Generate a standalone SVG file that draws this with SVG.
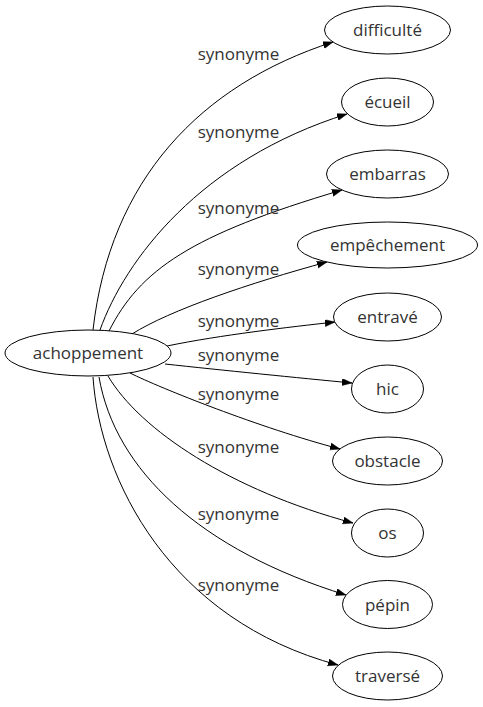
<svg xmlns="http://www.w3.org/2000/svg" width="483" height="707" viewBox="0 0 483 707">
<defs>
<style>
.n ellipse{fill:#fff;stroke:#000;stroke-width:1}
.n text{font-family:"Open Sans","DejaVu Sans",sans-serif;font-size:17px;fill:#333;text-anchor:middle}
.l{font-family:"Open Sans","DejaVu Sans",sans-serif;font-size:17px;fill:#333;text-anchor:middle}
.e path{fill:none;stroke:#000;stroke-width:1;marker-end:url(#ah)}
</style>
<marker id="ah" markerUnits="userSpaceOnUse" markerWidth="11" markerHeight="8" refX="10" refY="3.5" orient="auto">
<path d="M0,0 L10,3.5 L0,7 z" fill="#000" stroke="#000" stroke-width="0.5"/>
</marker>
</defs>
<rect width="483" height="707" fill="#fff"/>
<g id="edges" class="e">
<path d="M93,330 C110,180 200,85 333,42"/>
<path d="M100,330 C125,260 200,160 347,114"/>
<path d="M109,331 C140,270 190,235 342,190"/>
<path d="M132,334 C170,310 250,283 327,262"/>
<path d="M167,346 C220,335 290,327 335,322"/>
<path d="M165,364 C220,370 300,378 352,383"/>
<path d="M130,373 C160,388 260,428 340,449"/>
<path d="M108,376 C140,430 230,490 353,523"/>
<path d="M99,377 C115,470 200,550 346,595"/>
<path d="M93,377 C100,480 170,620 338,665"/>
</g>
<g id="labels">
<text class="l" x="238.5" y="60">synonyme</text>
<text class="l" x="238.5" y="138">synonyme</text>
<text class="l" x="238.5" y="214">synonyme</text>
<text class="l" x="238.5" y="275">synonyme</text>
<text class="l" x="238.5" y="327">synonyme</text>
<text class="l" x="238.5" y="361">synonyme</text>
<text class="l" x="238.5" y="400">synonyme</text>
<text class="l" x="238.5" y="453">synonyme</text>
<text class="l" x="238.5" y="520">synonyme</text>
<text class="l" x="238.5" y="591">synonyme</text>
</g>
<g id="achoppement" class="n"><ellipse cx="88" cy="353" rx="83" ry="23"/><text x="88" y="359">achoppement</text></g>
<g id="difficulte" class="n"><ellipse cx="387.5" cy="30" rx="63" ry="24"/><text x="387.5" y="36">difficulté</text></g>
<g id="ecueil" class="n"><ellipse cx="387.5" cy="102" rx="46" ry="24"/><text x="387.5" y="108">écueil</text></g>
<g id="embarras" class="n"><ellipse cx="387.5" cy="174" rx="61" ry="24"/><text x="387.5" y="180">embarras</text></g>
<g id="empechement" class="n"><ellipse cx="387.5" cy="245" rx="90" ry="23"/><text x="387.5" y="251">empêchement</text></g>
<g id="entrave" class="n"><ellipse cx="387.5" cy="317" rx="54" ry="24"/><text x="387.5" y="323">entravé</text></g>
<g id="hic" class="n"><ellipse cx="387.5" cy="389" rx="36" ry="24"/><text x="387.5" y="395">hic</text></g>
<g id="obstacle" class="n"><ellipse cx="387.5" cy="461" rx="55" ry="24"/><text x="387.5" y="467">obstacle</text></g>
<g id="os" class="n"><ellipse cx="387.5" cy="533" rx="36" ry="24"/><text x="387.5" y="539">os</text></g>
<g id="pepin" class="n"><ellipse cx="387.5" cy="604.5" rx="45" ry="24"/><text x="387.5" y="610.5">pépin</text></g>
<g id="traverse" class="n"><ellipse cx="387.5" cy="676" rx="55" ry="24"/><text x="387.5" y="682">traversé</text></g>
</svg>
